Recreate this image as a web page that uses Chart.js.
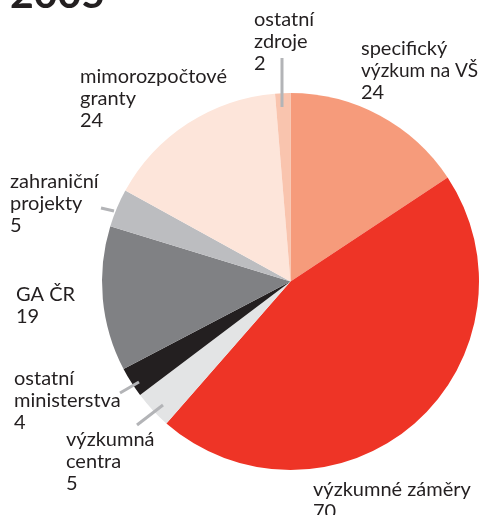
<!DOCTYPE html>
<html>
<head>
<meta charset="utf-8">
<script src="https://cdn.jsdelivr.net/npm/chart.js@4"></script>
<style>
html,body{margin:0;padding:0;background:#fff;}
#wrap{position:relative;width:481px;height:515px;overflow:hidden;}
#title{position:absolute;left:10px;top:-27px;font:bold 41px Lato,"Open Sans",sans-serif;color:#231f20;letter-spacing:0px;line-height:40px;}
</style>
</head>
<body>
<div id="wrap">
<canvas id="c" width="481" height="515"></canvas>
<div id="title">2005</div>
</div>
<script>
const categories = ["specifický výzkum na VŠ","výzkumné záměry","výzkumná centra","ostatní ministerstva","GA ČR","zahraniční projekty","mimorozpočtové granty","ostatní zdroje"];
const labelLines = [["specifický","výzkum na VŠ"],["výzkumné záměry"],["výzkumná","centra"],["ostatní","ministerstva"],["GA ČR"],["zahraniční","projekty"],["mimorozpočtové","granty"],["ostatní","zdroje"]];
const values = [24,70,5,4,19,5,24,2];
const colors = ["#f69b7b","#ee3426","#e3e4e5","#231f20","#808184","#bcbdc0","#fde5da","#f9c4ae"];

// label layout: [left x, first line center y]
const labelPos = [[361,49],[313,490],[66,440],[14,379],[16,295],[10,182],[80,77],[254,20]];
const leaders = [null,null,[137,425,163,405],[120,393,139,382],null,[101,208,114,211],null,[282,58,282,107]];
const LINE_H = 22;

const labelPlugin = {
  id:'labels',
  afterDraw(chart){
    const ctx = chart.ctx;
    ctx.save();
    ctx.strokeStyle = '#b3b4b7';
    ctx.lineWidth = 3;
    leaders.forEach(l=>{
      if(!l) return;
      ctx.beginPath();ctx.moveTo(l[0],l[1]);ctx.lineTo(l[2],l[3]);ctx.stroke();
    });
    ctx.fillStyle = '#231f20';
    ctx.font = '20px Lato, "Open Sans", sans-serif';
    ctx.textBaseline = 'middle';
    ctx.textAlign = 'left';
    labelLines.forEach((lines,i)=>{
      const [x,y] = labelPos[i];
      const all = lines.concat([String(values[i])]);
      all.forEach((t,j)=>ctx.fillText(t,x,y+j*LINE_H,478-x));
    });
    ctx.restore();
  }
};

new Chart(document.getElementById('c'),{
  type:'pie',
  data:{labels:categories,datasets:[{data:values,backgroundColor:colors,borderWidth:0,hoverOffset:0}]},
  options:{
    responsive:false,
    animation:false,
    events:[],
    layout:{padding:{left:102,right:2,top:93,bottom:45}},
    plugins:{legend:{display:false},tooltip:{enabled:false},title:{display:false}}
  },
  plugins:[labelPlugin]
});
</script>
</body>
</html>
